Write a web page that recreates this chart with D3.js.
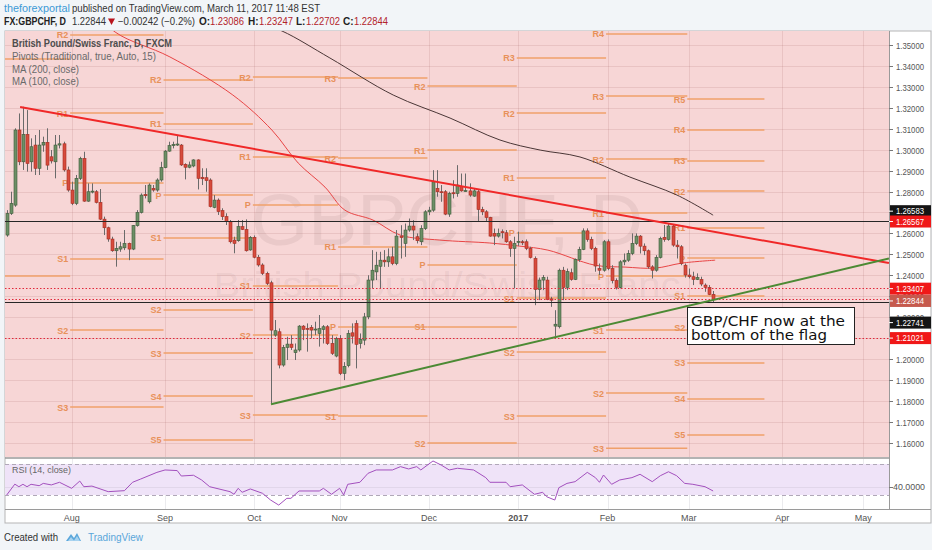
<!DOCTYPE html>
<html><head><meta charset="utf-8">
<script src="https://cdn.jsdelivr.net/npm/d3@7"></script>
<style>
html,body{margin:0;padding:0;background:#f2f5f8;}
svg{display:block;}
</style></head><body>
<svg id="c" width="932" height="550"></svg>
<script>
// ---------------- DATA ----------------
const startDate = "2016-07-08"; // first visible daily bar (weekdays only)
const opens = [1.2592,1.2695,1.2735,1.3094,1.2942,1.3073,1.2942,1.3022,1.2911,1.3022,1.3035,1.2966,1.2942,1.3022,1.3028,1.2903,1.2807,1.2743,1.2863,1.2958,1.2754,1.2799,1.2799,1.2748,1.2668,1.2627,1.2573,1.2517,1.2525,1.2531,1.2552,1.2525,1.2637,1.2700,1.2786,1.2751,1.2815,1.2807,1.2855,1.2914,1.2993,1.3019,1.3022,1.3022,1.2930,1.2916,1.2922,1.2951,1.2868,1.2866,1.2855,1.2724,1.2759,1.2709,1.2680,1.2656,1.2568,1.2565,1.2632,1.2619,1.2521,1.2581,1.2486,1.2449,1.2409,1.2364,1.2114,1.2130,1.1971,1.2055,1.2071,1.2030,1.2043,1.2157,1.2146,1.2151,1.2141,1.2122,1.2141,1.2154,1.2074,1.2014,1.2098,1.1931,1.1968,1.2125,1.2169,1.2074,1.2090,1.2201,1.2377,1.2416,1.2443,1.2472,1.2464,1.2488,1.2456,1.2587,1.2552,1.2616,1.2635,1.2584,1.2560,1.2623,1.2703,1.2711,1.2815,1.2799,1.2799,1.2692,1.2794,1.2791,1.2823,1.2803,1.2803,1.2778,1.2799,1.2714,1.2703,1.2676,1.2600,1.2587,1.2608,1.2603,1.2560,1.2528,1.2558,1.2560,1.2560,1.2528,1.2480,1.2332,1.2377,1.2377,1.2287,1.2157,1.2154,1.2424,1.2342,1.2412,1.2380,1.2475,1.2523,1.2612,1.2571,1.2528,1.2432,1.2424,1.2560,1.2432,1.2374,1.2342,1.2464,1.2472,1.2504,1.2552,1.2587,1.2539,1.2517,1.2440,1.2424,1.2485,1.2581,1.2571,1.2635,1.2544,1.2536,1.2448,1.2401,1.2393,1.2380,1.2380,1.2353,1.2342,1.23086];
const highs = [1.2711,1.2799,1.3102,1.3173,1.3205,1.3189,1.3054,1.3070,1.3094,1.3062,1.3102,1.2998,1.3070,1.3070,1.3038,1.2919,1.2847,1.2879,1.2966,1.2990,1.2839,1.2839,1.2807,1.2812,1.2680,1.2632,1.2584,1.2560,1.2560,1.2616,1.2556,1.2640,1.2711,1.2791,1.2831,1.2839,1.2831,1.2863,1.2942,1.2998,1.3038,1.3038,1.3070,1.3027,1.2935,1.2943,1.2954,1.2954,1.2911,1.2911,1.2863,1.2783,1.2767,1.2720,1.2696,1.2664,1.2584,1.2664,1.2664,1.2667,1.2587,1.2590,1.2497,1.2457,1.2417,1.2374,1.2186,1.2146,1.2067,1.2106,1.2114,1.2074,1.2162,1.2162,1.2170,1.2162,1.2178,1.2210,1.2162,1.2162,1.2114,1.2106,1.2114,1.1985,1.2138,1.2170,1.2185,1.2122,1.2220,1.2400,1.2520,1.2512,1.2512,1.2520,1.2528,1.2536,1.2616,1.2639,1.2647,1.2671,1.2663,1.2600,1.2639,1.2711,1.2727,1.2902,1.2902,1.2831,1.2807,1.2799,1.2854,1.2926,1.2886,1.2886,1.2839,1.2815,1.2807,1.2727,1.2711,1.2679,1.2623,1.2623,1.2619,1.2616,1.2568,1.2584,1.2608,1.2568,1.2571,1.2536,1.2490,1.2389,1.2401,1.2393,1.2297,1.2233,1.2432,1.2440,1.2432,1.2432,1.2480,1.2536,1.2624,1.2624,1.2584,1.2536,1.2456,1.2568,1.2571,1.2448,1.2385,1.2472,1.2504,1.2520,1.2600,1.2600,1.2592,1.2552,1.2523,1.2448,1.2496,1.2584,1.2640,1.2647,1.2644,1.2568,1.2544,1.2456,1.2432,1.2417,1.2409,1.2393,1.2361,1.2353,1.23247];
const lows = [1.2584,1.2688,1.2727,1.2926,1.2903,1.2895,1.2895,1.2879,1.2879,1.2990,1.2903,1.2934,1.2863,1.3006,1.2895,1.2799,1.2735,1.2735,1.2855,1.2751,1.2751,1.2791,1.2743,1.2664,1.2592,1.2560,1.2512,1.2441,1.2512,1.2520,1.2472,1.2520,1.2632,1.2695,1.2767,1.2743,1.2799,1.2799,1.2847,1.2911,1.2990,1.3006,1.3018,1.2922,1.2858,1.2911,1.2916,1.2810,1.2831,1.2799,1.2724,1.2720,1.2688,1.2664,1.2640,1.2552,1.2505,1.2560,1.2616,1.2513,1.2517,1.2481,1.2441,1.2401,1.2353,1.1788,1.2106,1.1955,1.1963,1.1995,1.2043,1.1995,1.2035,1.2090,1.2035,1.2098,1.2114,1.2059,1.2074,1.2067,1.2019,1.2008,1.1923,1.1899,1.1960,1.2074,1.1955,1.2050,1.2066,1.2190,1.2337,1.2377,1.2337,1.2440,1.2440,1.2448,1.2448,1.2480,1.2488,1.2608,1.2568,1.2552,1.2544,1.2616,1.2687,1.2703,1.2775,1.2751,1.2687,1.2679,1.2767,1.2775,1.2799,1.2799,1.2775,1.2775,1.2655,1.2687,1.2655,1.2584,1.2544,1.2580,1.2576,1.2555,1.2488,1.2337,1.2540,1.2544,1.2520,1.2480,1.2257,1.2281,1.2329,1.2281,1.2249,1.2109,1.2146,1.2281,1.2329,1.2374,1.2377,1.2464,1.2520,1.2560,1.2520,1.2417,1.2401,1.2417,1.2424,1.2361,1.2332,1.2337,1.2448,1.2464,1.2496,1.2544,1.2504,1.2496,1.2432,1.2385,1.2417,1.2480,1.2560,1.2565,1.2536,1.2480,1.2448,1.2389,1.2385,1.2353,1.2377,1.2348,1.2321,1.2305,1.22702];
const closes = [1.2695,1.2743,1.3094,1.2942,1.3073,1.2934,1.3014,1.2911,1.3022,1.3035,1.2926,1.2946,1.3022,1.3028,1.2903,1.2807,1.2743,1.2863,1.2958,1.2754,1.2799,1.2802,1.2748,1.2668,1.2627,1.2573,1.2517,1.2528,1.2536,1.2552,1.2525,1.2637,1.2700,1.2783,1.2780,1.2831,1.2807,1.2855,1.2914,1.2993,1.3019,1.3025,1.3027,1.2927,1.2916,1.2927,1.2951,1.2863,1.2861,1.2852,1.2728,1.2759,1.2704,1.2680,1.2656,1.2560,1.2552,1.2632,1.2619,1.2517,1.2581,1.2486,1.2449,1.2409,1.2361,1.2138,1.2135,1.1971,1.2055,1.2071,1.2055,1.2043,1.2157,1.2141,1.2145,1.2138,1.2143,1.2145,1.2154,1.2074,1.2027,1.2098,1.1931,1.1965,1.2122,1.2109,1.2070,1.2093,1.2201,1.2377,1.2424,1.2448,1.2472,1.2464,1.2488,1.2456,1.2587,1.2580,1.2616,1.2635,1.2616,1.2565,1.2623,1.2703,1.2711,1.2846,1.2799,1.2795,1.2692,1.2791,1.2791,1.2831,1.2803,1.2804,1.2783,1.2803,1.2714,1.2703,1.2676,1.2587,1.2587,1.2600,1.2603,1.2560,1.2528,1.2552,1.2562,1.2557,1.2528,1.2485,1.2332,1.2377,1.2389,1.2284,1.2281,1.2166,1.2424,1.2342,1.2417,1.2380,1.2475,1.2523,1.2612,1.2571,1.2528,1.2444,1.2424,1.2560,1.2432,1.2374,1.2342,1.2464,1.2472,1.2504,1.2552,1.2587,1.2539,1.2517,1.2440,1.2424,1.2485,1.2576,1.2571,1.2635,1.2544,1.2536,1.2456,1.2401,1.2393,1.2380,1.2389,1.2358,1.2342,1.2308,1.22844];

// moving averages, read at points (bar index, price)
const ma100Bar = [20,26.7,40.2,55.7,65.3,71.8,78.4,83.3,90.2,96.9,106.7,119,126.4,133.3,144.9,152.3,159.7,166.3,174.5];
const ma100Val = [1.370,1.3562,1.3443,1.3261,1.3094,1.2936,1.2821,1.2711,1.2664,1.2592,1.2568,1.2554,1.2539,1.2520,1.2448,1.2439,1.2434,1.2458,1.2472];
const ma200Bar = [60,67.8,79.6,95.2,109.2,121.5,131.4,141.2,153.5,165.1,174];
const ma200Val = [1.362,1.3567,1.3438,1.3261,1.3151,1.3046,1.2998,1.2965,1.2869,1.2783,1.2687];

// RSI(14)
const rsiBar = [0,2,3,4,5,6,8,9,11,13,16,18,19,21,25,29,31,33,37,39,42,43,46,48,50,55,56,57,58,60,63,65,67,69,70,72,77,78,80,82,83,84,87,89,91,95,97,99,101,102,105,107,109,111,115,118,119,123,124,127,130,132,133,135,136,138,140,143,145,146,147,149,151,154,156,159,161,163,165,167,169,172,174];
const rsiVal = [30,44,40.7,43.8,40.7,43.8,42,45,43,46.4,38.6,48,40.7,41.5,34.3,35.6,46.4,50.6,59.2,62.3,61.5,54.5,55.5,49.4,40.7,34.3,30.9,38.6,33.5,37.8,32.2,23.5,17,25.7,25.7,35.2,35.2,38.6,30.9,38.6,30,43.8,46.4,58,62.3,62.3,66.6,63.6,66.6,62.3,73.9,68.7,62.3,64.5,62.3,52.4,46.4,46.4,40.7,43,30.9,33.5,27.8,23.5,39.4,45,47.2,59.2,52.4,46.4,55.8,43.8,49.4,52.4,56.7,47.2,54.9,60,54.9,45,43.8,40.7,35.2];

// monthly traditional pivots
const pivMonths = ["2016-07","2016-08","2016-09","2016-10","2016-11","2016-12","2017-01","2017-02","2017-03"];
const pivLastEnd = "2017-03-28";
const pivR5 = [null,null,null,null,null,null,null,null,1.3242];
const pivR4 = [null,null,null,null,null,null,null,1.3553,1.3094];
const pivR3 = [null,null,null,null,1.3342,null,1.3438,1.3256,1.2946];
const pivR2 = [null,1.3548,1.3333,1.3347,1.2960,1.3304,1.3175,1.2955,1.2802];
const pivR1 = [null,1.3175,1.3123,1.2965,1.2535,1.2998,1.2865,1.2697,1.2626];
const pivPP = [1.3433,1.2841,1.2783,1.2736,1.2153,1.2449,1.2602,1.2396,1.2482];
const pivS1 = [1.2396,1.2478,1.2578,1.2349,1.1727,1.2153,1.2291,1.2138,1.2301];
const pivS2 = [null,1.2138,1.2234,1.2114,null,1.1598,1.2033,1.1837,1.2148];
const pivS3 = [null,1.1770,1.2028,1.1732,null,null,1.1727,1.1574,1.1981];
const pivS4 = [null,null,1.1823,null,null,null,null,null,1.1809];
const pivS5 = [null,null,1.1613,null,null,null,null,null,1.1637];

// drawings
const trendRedBar = [3.3,217.3];  const trendRedVal = [1.3204,1.2458];
const trendGreenBar = [65.1,217.3]; const trendGreenVal = [1.1784,1.2480];
const hLinesBlack = [1.26583,1.22741];
const hLinesRedDot = [1.23407,1.22844,1.21021];
const priceTags = [1.26583,1.26567,1.23407,1.22844,1.22741,1.21021];
const yTicks = [1.16,1.17,1.18,1.19,1.20,1.21,1.22,1.23,1.24,1.25,1.26,1.27,1.28,1.29,1.30,1.31,1.32,1.33,1.34,1.35];
const monthNames = ["Jan","Feb","Mar","Apr","May","Jun","Jul","Aug","Sep","Oct","Nov","Dec"];
const noteLines = ["GBP/CHF now at the","bottom of the flag"];

// ---------------- LAYOUT ----------------
const FONT = "'Liberation Sans', Arial, sans-serif";
const P = {l:5, r:889, t:31, b:457};
const R = {t:459, b:509};
const svg = d3.select("#c");

// trading calendar
const dates = [];
{ const d = new Date(startDate+"T12:00:00"); while (dates.length < 240) { if (d.getDay()%6 !== 0) dates.push(new Date(d)); d.setDate(d.getDate()+1);} }
const mk = d => d.getFullYear()+"-"+String(d.getMonth()+1).padStart(2,"0");
const firstIdx = {};
dates.forEach((d,i)=>{ const k=mk(d); if(!(k in firstIdx)) firstIdx[k]=i; });
const idxOfDate = s => dates.findIndex(d => d.toISOString().slice(0,10) >= s);

const xs = d3.scaleLinear().domain([0,211]).range([6.7, 6.7+4.06*211]);
const ys = d3.scaleLinear().domain([1.16,1.35]).range([442.7,45]);
const rs = d3.scaleLinear().domain([30,70]).range([495,464]);

function T(g,x,y,s,o={}){
  const t=g.append("text").attr("x",x).attr("y",y).text(s)
   .attr("font-size",o.size||10).attr("fill",o.fill||"#333")
   .attr("font-weight",o.bold?"bold":"normal")
   .attr("font-family",o.family||FONT);
  if(o.anchor) t.attr("text-anchor",o.anchor);
  if(o.len) t.attr("textLength",o.len).attr("lengthAdjust","spacingAndGlyphs");
  return t;
}

// backgrounds
svg.append("rect").attr("width",932).attr("height",550).attr("fill","#f2f5f8");
svg.append("rect").attr("x",P.l).attr("y",P.t).attr("width",931-P.l).attr("height",523-P.t).attr("fill","#ffffff").attr("stroke","#b5b5b5");
svg.append("rect").attr("x",P.l).attr("y",P.t).attr("width",P.r-P.l).attr("height",P.b-P.t).attr("fill","#f7d6d6");

const defs = svg.append("defs");
defs.append("clipPath").attr("id","cm").append("rect").attr("x",P.l).attr("y",P.t).attr("width",P.r-P.l).attr("height",P.b-P.t);
defs.append("clipPath").attr("id","cr").append("rect").attr("x",P.l).attr("y",R.t).attr("width",P.r-P.l).attr("height",R.b-R.t);

const gm = svg.append("g").attr("clip-path","url(#cm)");
const gr = svg.append("g").attr("clip-path","url(#cr)");

// month ticks
const monthTicks = [];
for (const k of Object.keys(firstIdx)) {
  const [y,m] = k.split("-").map(Number);
  const i = firstIdx[k];
  if (i === 0) continue;
  if (xs(i) > P.r) continue;
  monthTicks.push({i, label: m===1 ? String(y) : monthNames[m-1], bold: m===1});
}

// grid
monthTicks.forEach(t=>{
  const x = Math.round(xs(t.i))+0.5;
  gm.append("line").attr("x1",x).attr("x2",x).attr("y1",P.t).attr("y2",P.b).attr("stroke","rgba(160,100,100,0.16)");
  gr.append("line").attr("x1",x).attr("x2",x).attr("y1",R.t).attr("y2",R.b).attr("stroke","rgba(120,120,140,0.15)");
});
yTicks.forEach(v=>{
  const y = Math.round(ys(v))+0.5;
  gm.append("line").attr("x1",P.l).attr("x2",P.r).attr("y1",y).attr("y2",y).attr("stroke","rgba(160,100,100,0.16)");
});

// watermark
T(gm,447,245,"GBPCHF, D",{size:72,fill:"rgba(110,70,70,0.085)",anchor:"middle",len:392});
T(gm,447,297,"British Pound/Swiss Franc",{size:35,fill:"rgba(110,70,70,0.085)",anchor:"middle",len:467});

// pivots
const pivLevels = [["R5",pivR5],["R4",pivR4],["R3",pivR3],["R2",pivR2],["R1",pivR1],["P",pivPP],["S1",pivS1],["S2",pivS2],["S3",pivS3],["S4",pivS4],["S5",pivS5]];
pivMonths.forEach((m,j)=>{
  const s = (m in firstIdx && firstIdx[m]>0) ? firstIdx[m] : -3;
  const e = j < pivMonths.length-1 ? firstIdx[pivMonths[j+1]] : idxOfDate(pivLastEnd);
  const x1 = xs(s)-1.5, x2 = xs(e)-1.5;
  pivLevels.forEach(([name,arr])=>{
    const v = arr[j]; if (v==null) return;
    const y = ys(v);
    gm.append("line").attr("x1",x1).attr("x2",x2).attr("y1",y).attr("y2",y)
      .attr("stroke","#f0a06a").attr("stroke-width",1.5);
    if (x1 - 14 > P.l) T(gm,x1-2,y+3.5,name,{size:9,fill:"#e8915a",bold:true,anchor:"end"});
  });
});

// moving averages
const ln = d3.line().x(d=>xs(d[0])).y(d=>ys(d[1])).curve(d3.curveCatmullRom);
gm.append("path").attr("d",ln(ma100Bar.map((b,i)=>[b,ma100Val[i]]))).attr("fill","none").attr("stroke","#e84545").attr("stroke-width",1);
gm.append("path").attr("d",ln(ma200Bar.map((b,i)=>[b,ma200Val[i]]))).attr("fill","none").attr("stroke","#4a3636").attr("stroke-width",1);

// candles
const gc = gm.append("g");
opens.forEach((o,i)=>{
  const c = closes[i], h = highs[i], l = lows[i];
  const up = c >= o;
  const xc = Math.round(xs(i));
  gc.append("line").attr("x1",xc+0.5).attr("x2",xc+0.5).attr("y1",ys(h)).attr("y2",ys(l))
    .attr("stroke","#6a6a6a").attr("stroke-width",1);
  const y0 = ys(Math.max(o,c)), y1 = ys(Math.min(o,c));
  gc.append("rect").attr("x",xc-1).attr("y",y0).attr("width",3).attr("height",Math.max(1,y1-y0))
    .attr("fill",up?"#6d8f66":"#d74b3c").attr("stroke",up?"#3d5a39":"#a42c22").attr("stroke-width",0.6);
});

// horizontal lines
hLinesBlack.forEach(v=>{
  const y = Math.round(ys(v))+0.5;
  gm.append("line").attr("x1",P.l).attr("x2",P.r).attr("y1",y).attr("y2",y).attr("stroke","#262626").attr("stroke-width",1);
});
hLinesRedDot.forEach(v=>{
  const y = Math.round(ys(v))+0.5;
  gm.append("line").attr("x1",P.l).attr("x2",P.r).attr("y1",y).attr("y2",y).attr("stroke","#e0283a").attr("stroke-width",1).attr("stroke-dasharray","1.5,2");
});

// trendlines
gm.append("line").attr("x1",xs(trendRedBar[0])).attr("y1",ys(trendRedVal[0])).attr("x2",xs(trendRedBar[1])).attr("y2",ys(trendRedVal[1]))
  .attr("stroke","#f02828").attr("stroke-width",2);
gm.append("line").attr("x1",xs(trendGreenBar[0])).attr("y1",ys(trendGreenVal[0])).attr("x2",xs(trendGreenBar[1])).attr("y2",ys(trendGreenVal[1]))
  .attr("stroke","#4c8a34").attr("stroke-width",2);

// note box
gm.append("rect").attr("x",687.5).attr("y",307.5).attr("width",167).attr("height",37).attr("fill","#ffffff").attr("stroke","#222");
T(gm,691,325.5,noteLines[0],{size:14.5,fill:"#111",family:"'DejaVu Sans',sans-serif",len:154});
T(gm,691,340,noteLines[1],{size:14.5,fill:"#111",family:"'DejaVu Sans',sans-serif",len:136});

// legend
T(svg,12,47,"British Pound/Swiss Franc, D, FXCM",{size:10,bold:true,fill:"#4d4d4d",len:160});
T(svg,12,60,"Pivots (Traditional, true, Auto, 15)",{size:10,fill:"#6a6a6a",len:144});
T(svg,12,72.5,"MA (200, close)",{size:10,fill:"#6a6a6a",len:67});
T(svg,12,85,"MA (100, close)",{size:10,fill:"#6a6a6a",len:67});

// separators / axes
svg.append("line").attr("x1",P.l).attr("x2",P.r).attr("y1",458).attr("y2",458).attr("stroke","#9a9a9a").attr("stroke-width",1.5);
svg.append("line").attr("x1",P.l).attr("x2",931).attr("y1",R.b+0.5).attr("y2",R.b+0.5).attr("stroke","#9a9a9a");
svg.append("line").attr("x1",P.r+0.5).attr("x2",P.r+0.5).attr("y1",P.t).attr("y2",R.b).attr("stroke","#9a9a9a");

// y ticks
yTicks.forEach(v=>{
  const y = Math.round(ys(v))+0.5;
  svg.append("line").attr("x1",P.r).attr("x2",P.r+4).attr("y1",y).attr("y2",y).attr("stroke","#777");
  T(svg,896,y+3,v.toFixed(5),{size:9,fill:"#555",len:28});
});

// price tags (shifted to avoid overlap, as on the reference)
const tagStyle = {"1.26583":["#151515",-10],"1.26567":["#f01818",0],"1.23407":["#f01818",1],"1.22844":["#c65a4d",1.5],"1.22741":["#151515",21],"1.21021":["#f01818",0.5]};
priceTags.forEach(v=>{
  const [bg,sh] = tagStyle[v.toFixed(5)];
  const y = ys(v)+sh;
  svg.append("rect").attr("x",P.r+1).attr("y",y-6).attr("width",41).attr("height",12).attr("fill",bg);
  svg.append("line").attr("x1",P.r).attr("x2",P.r+4).attr("y1",y).attr("y2",y).attr("stroke","#fff");
  T(svg,896,y+3.2,v.toFixed(5),{size:9,fill:"#fff",len:28});
});

// RSI panel
gr.append("rect").attr("x",P.l).attr("y",rs(70)).attr("width",P.r-P.l).attr("height",rs(30)-rs(70)).attr("fill","#efe3f8");
[70,30].forEach(v=>{
  gr.append("line").attr("x1",P.l).attr("x2",P.r).attr("y1",rs(v)+0.5).attr("y2",rs(v)+0.5).attr("stroke","#b0a8b8").attr("stroke-dasharray","4,3");
});
gr.append("line").attr("x1",P.l).attr("x2",P.r).attr("y1",Math.round(rs(40))+0.5).attr("y2",Math.round(rs(40))+0.5).attr("stroke","rgba(120,120,140,0.12)");
const rl = d3.line().x(d=>xs(d[0])).y(d=>rs(d[1]));
gr.append("path").attr("d",rl(rsiBar.map((b,i)=>[b,rsiVal[i]]))).attr("fill","none").attr("stroke","#a350be").attr("stroke-width",1);
T(svg,12,473,"RSI (14, close)",{size:9.5,fill:"#666",len:59});
svg.append("line").attr("x1",P.r).attr("x2",P.r+4).attr("y1",Math.round(rs(40))+0.5).attr("y2",Math.round(rs(40))+0.5).attr("stroke","#777");
T(svg,893,rs(40)+3,"40.0000",{size:9,fill:"#555",len:32});

// x axis labels
monthTicks.forEach(t=>{
  T(svg,xs(t.i),521,t.label,{size:9,fill:"#555",anchor:"middle",bold:t.bold});
});

// header
T(svg,4,12,"theforexportal",{size:10.5,fill:"#3d9ad6",len:66});
T(svg,72,12,"published on TradingView.com, March 11, 2017 11:48 EST",{size:10.5,fill:"#333",len:248});
T(svg,4,25,"FX:GBPCHF, D",{size:10,bold:true,fill:"#222",len:62});
T(svg,72,25,"1.22844",{size:10,fill:"#333",len:34});
svg.append("path").attr("d","M108,18.5 L115,18.5 L111.5,25 Z").attr("fill","#b8141c");
T(svg,118,25,"\u22120.00242 (\u22120.2%)",{size:10,fill:"#333",len:77});
const ohlc = [["O:",199,"1.23086"],["H:",248,"1.23247"],["L:",296,"1.22702"],["C:",343,"1.22844"]];
ohlc.forEach(([k,x,v])=>{
  T(svg,x,25,k,{size:10,bold:true,fill:"#222"});
  T(svg,x+(k==="L:"?10:11),25,v,{size:10,fill:"#b3232b",len:34});
});

// footer
T(svg,4,541,"Created with",{size:10,fill:"#333",len:54});
const logo = svg.append("g").attr("transform","translate(66,531)");
logo.append("path").attr("d","M0,10 L5,3 L8,7 L11,2 L15,10 Z").attr("fill","#5ba7db");
logo.append("path").attr("d","M2,10 L5,6 L8,9.5 L11,5 L14,10 Z").attr("fill","#a8d3f0");
T(svg,88,541,"TradingView",{size:10,fill:"#5aa6da",len:55});
</script>
</body></html>
